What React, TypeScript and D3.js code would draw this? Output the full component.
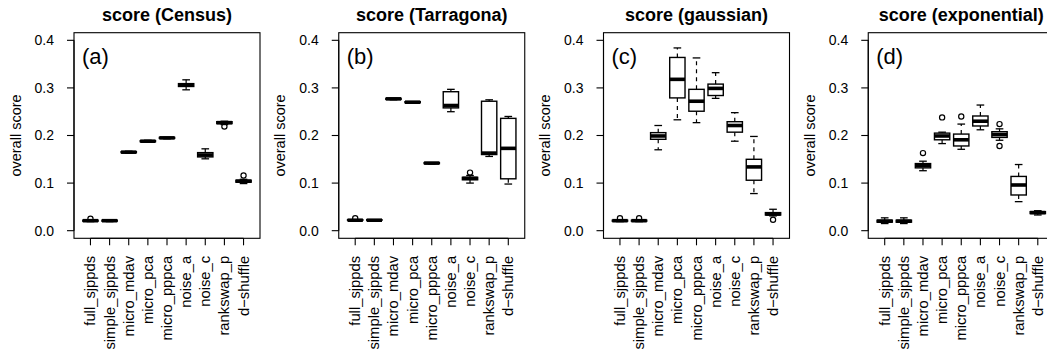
import React from "react";
import * as d3 from "d3";

// Methods compared in every panel (x-axis categories)
const methods = [
  "full_sjppds",
  "simple_sjppds",
  "micro_mdav",
  "micro_pca",
  "micro_pppca",
  "noise_a",
  "noise_c",
  "rankswap_p",
  "d\u2212shuffle",
];

// Five-number summaries per method: [lower whisker, Q1, median, Q3, upper whisker]
const censusStats = [
  [0.019, 0.02, 0.021, 0.022, 0.023],
  [0.019, 0.02, 0.021, 0.022, 0.022],
  [0.163, 0.164, 0.165, 0.166, 0.167],
  [0.186, 0.187, 0.188, 0.189, 0.19],
  [0.193, 0.194, 0.195, 0.196, 0.196],
  [0.296, 0.303, 0.306, 0.309, 0.317],
  [0.151, 0.155, 0.159, 0.164, 0.172],
  [0.223, 0.225, 0.227, 0.229, 0.23],
  [0.099, 0.102, 0.104, 0.106, 0.108],
];
const censusOutliers = [[0.025], [], [], [], [], [], [], [0.219], [0.116]];

const tarragonaStats = [
  [0.021, 0.022, 0.022, 0.023, 0.023],
  [0.021, 0.022, 0.022, 0.023, 0.023],
  [0.275, 0.276, 0.277, 0.278, 0.278],
  [0.268, 0.269, 0.27, 0.271, 0.271],
  [0.14, 0.141, 0.142, 0.143, 0.143],
  [0.25, 0.258, 0.263, 0.292, 0.297],
  [0.1, 0.107, 0.11, 0.112, 0.116],
  [0.156, 0.16, 0.163, 0.272, 0.275],
  [0.098, 0.109, 0.173, 0.236, 0.24],
];
const tarragonaOutliers = [[0.026], [], [], [], [], [], [0.122], [], []];

const gaussianStats = [
  [0.019, 0.02, 0.021, 0.022, 0.023],
  [0.019, 0.02, 0.021, 0.022, 0.023],
  [0.17, 0.192, 0.199, 0.206, 0.221],
  [0.233, 0.279, 0.318, 0.364, 0.384],
  [0.227, 0.251, 0.272, 0.297, 0.363],
  [0.278, 0.284, 0.299, 0.308, 0.332],
  [0.188, 0.207, 0.221, 0.229, 0.248],
  [0.078, 0.106, 0.134, 0.15, 0.198],
  [0.031, 0.033, 0.035, 0.038, 0.045],
];
const gaussianOutliers = [[0.026], [0.026], [], [], [], [], [], [], [0.023]];

const exponentialStats = [
  [0.015, 0.018, 0.02, 0.022, 0.027],
  [0.015, 0.018, 0.02, 0.022, 0.027],
  [0.126, 0.132, 0.137, 0.141, 0.146],
  [0.183, 0.191, 0.199, 0.205, 0.207],
  [0.171, 0.178, 0.191, 0.203, 0.224],
  [0.212, 0.22, 0.23, 0.241, 0.264],
  [0.19, 0.196, 0.202, 0.208, 0.214],
  [0.061, 0.075, 0.096, 0.114, 0.139],
  [0.033, 0.036, 0.038, 0.04, 0.042],
];
const exponentialOutliers = [[], [], [0.163], [0.238], [0.24], [], [0.224, 0.178], [], []];

const yTicks = [0.0, 0.1, 0.2, 0.3, 0.4];

const panels = [
  { title: "score (Census)", tag: "(a)", stats: censusStats, outliers: censusOutliers },
  { title: "score (Tarragona)", tag: "(b)", stats: tarragonaStats, outliers: tarragonaOutliers },
  { title: "score (gaussian)", tag: "(c)", stats: gaussianStats, outliers: gaussianOutliers },
  { title: "score (exponential)", tag: "(d)", stats: exponentialStats, outliers: exponentialOutliers },
];

const W = 1047;
const H = 354;
const PANEL_STEP = 264.75;
const PLOT_LEFT = 74;
const PLOT_W = 186;
const PLOT_TOP = 32.7;
const PLOT_BOTTOM = 238.3;
const FONT = "'Liberation Sans', Arial, Helvetica, sans-serif";

function Panel({ index, panel }) {
  const left = PLOT_LEFT + index * PANEL_STEP;
  const x = d3.scaleLinear().domain([0.14, 9.86]).range([left, left + PLOT_W]);
  const y = d3.scaleLinear().domain([-0.016, 0.416]).range([PLOT_BOTTOM, PLOT_TOP]);
  const half = x(0.4) - x(0);
  const staple = x(0.2) - x(0);
  const cx = left + PLOT_W / 2;

  return (
    <g>
      <text
        x={cx}
        y={21}
        textAnchor="middle"
        fontSize={18}
        fontWeight="bold"
        fontFamily={FONT}
      >
        {panel.title}
      </text>
      <text
        transform={`translate(${left - 53.5},${(PLOT_TOP + PLOT_BOTTOM) / 2}) rotate(-90)`}
        textAnchor="middle"
        fontSize={14.5}
        fontFamily={FONT}
      >
        overall score
      </text>
      <rect
        x={left}
        y={PLOT_TOP}
        width={PLOT_W}
        height={PLOT_BOTTOM - PLOT_TOP}
        fill="none"
        stroke="#000"
        strokeWidth={1.1}
      />
      <text x={left + 8} y={64} fontSize={22} fontFamily={FONT}>
        {panel.tag}
      </text>
      {/* y axis */}
      <line x1={left} x2={left} y1={y(0)} y2={y(0.4)} stroke="#000" strokeWidth={1.1} />
      {yTicks.map((t) => (
        <g key={t}>
          <line x1={left - 7} x2={left} y1={y(t)} y2={y(t)} stroke="#000" strokeWidth={1.1} />
          <text
            x={left - 20}
            y={y(t)}
            dy="0.35em"
            textAnchor="end"
            fontSize={14}
            fontFamily={FONT}
          >
            {d3.format(".1f")(t)}
          </text>
        </g>
      ))}
      {/* x axis */}
      <line x1={x(1)} x2={x(9)} y1={PLOT_BOTTOM} y2={PLOT_BOTTOM} stroke="#000" strokeWidth={1.1} />
      {methods.map((m, i) => (
        <g key={m}>
          <line
            x1={x(i + 1)}
            x2={x(i + 1)}
            y1={PLOT_BOTTOM}
            y2={PLOT_BOTTOM + 7}
            stroke="#000"
            strokeWidth={1.1}
          />
          <text
            transform={`translate(${x(i + 1) + 5},${PLOT_BOTTOM + 17.5}) rotate(-90)`}
            textAnchor="end"
            fontSize={14.8}
            fontFamily={FONT}
          >
            {m}
          </text>
        </g>
      ))}
      {/* boxes */}
      {panel.stats.map((s, i) => {
        const px = x(i + 1);
        const [lo, q1, med, q3, hi] = s;
        return (
          <g key={i}>
            {hi > q3 && (
              <line x1={px} x2={px} y1={y(q3)} y2={y(hi)} stroke="#000" strokeWidth={1.2} strokeDasharray="4,4" />
            )}
            {lo < q1 && (
              <line x1={px} x2={px} y1={y(q1)} y2={y(lo)} stroke="#000" strokeWidth={1.2} strokeDasharray="4,4" />
            )}
            <line x1={px - staple} x2={px + staple} y1={y(hi)} y2={y(hi)} stroke="#000" strokeWidth={1.3} />
            <line x1={px - staple} x2={px + staple} y1={y(lo)} y2={y(lo)} stroke="#000" strokeWidth={1.3} />
            <rect
              x={px - half}
              y={y(q3)}
              width={2 * half}
              height={Math.max(0, y(q1) - y(q3))}
              fill="#fff"
              stroke="#000"
              strokeWidth={1.4}
            />
            <line x1={px - half} x2={px + half} y1={y(med)} y2={y(med)} stroke="#000" strokeWidth={3.6} />
            {panel.outliers[i].map((o, k) => (
              <circle key={k} cx={px} cy={y(o)} r={2.6} fill="none" stroke="#000" strokeWidth={1.2} />
            ))}
          </g>
        );
      })}
    </g>
  );
}

export default function App() {
  return (
    <svg
      width={W}
      height={H}
      viewBox={`0 0 ${W} ${H}`}
      style={{ position: "absolute", left: 0, top: 0, background: "#fff" }}
    >
      <rect width={W} height={H} fill="#fff" />
      {panels.map((p, i) => (
        <Panel key={p.tag} index={i} panel={p} />
      ))}
    </svg>
  );
}
